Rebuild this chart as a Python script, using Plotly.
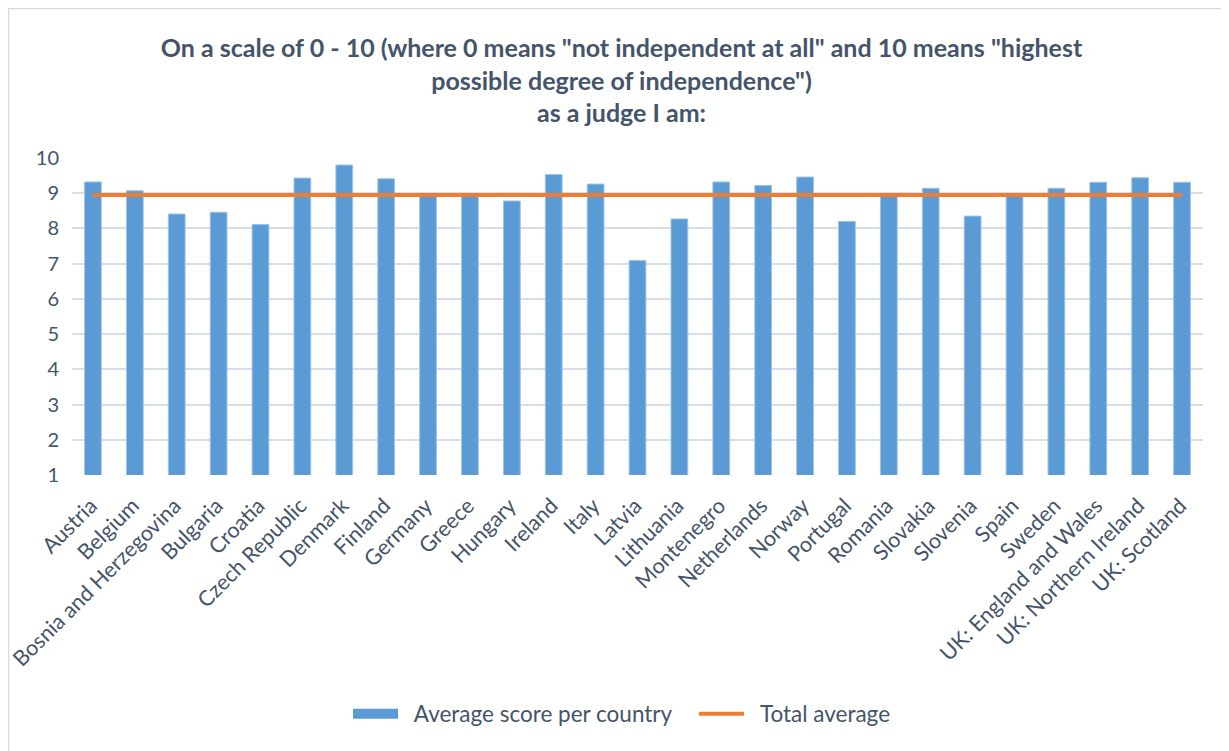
import plotly.graph_objects as go

countries = ["Austria", "Belgium", "Bosnia and Herzegovina", "Bulgaria", "Croatia",
             "Czech Republic", "Denmark", "Finland", "Germany", "Greece", "Hungary",
             "Ireland", "Italy", "Latvia", "Lithuania", "Montenegro", "Netherlands",
             "Norway", "Portugal", "Romania", "Slovakia", "Slovenia", "Spain", "Sweden",
             "UK: England and Wales", "UK: Northern Ireland", "UK: Scotland"]
avg_scores = [9.32, 9.07, 8.41, 8.46, 8.11, 9.43, 9.80, 9.41, 8.93, 8.92, 8.78,
              9.53, 9.26, 7.09, 8.27, 9.32, 9.22, 9.46, 8.20, 8.93, 9.14, 8.35,
              8.95, 9.14, 9.31, 9.44, 9.31]
total_average = [8.95] * len(countries)
y_ticks = [1, 2, 3, 4, 5, 6, 7, 8, 9, 10]

FONT = "Lato, 'Open Sans', sans-serif"
TXT = "#44546A"
BLUE = "#5B9BD5"
ORANGE = "#ED7D31"

W, H = 1221, 743          # page body adds an 8px margin
L, R, T, B = 64, 26, 150, 276
PW, PH = W - L - R, H - T - B
NB = "\u00a0\u00a0"

fig = go.Figure()
fig.add_trace(go.Bar(x=countries, y=avg_scores, name="Average score per country",
                     marker=dict(color=BLUE, line=dict(color="#9DC3E6", width=1)),
                     showlegend=False))
fig.add_trace(go.Scatter(x=[None], y=[None], mode="lines", name=NB + "Average score per country",
                         line=dict(color=BLUE, width=14)))
fig.add_trace(go.Scatter(x=countries, y=total_average, name=NB + "Total average", mode="lines",
                         line=dict(color=ORANGE, width=4)))

fig.update_layout(
    width=W, height=H,
    paper_bgcolor="white", plot_bgcolor="white",
    margin=dict(l=L, r=R, t=T, b=B),
    bargap=0.6,
    font=dict(family=FONT, color=TXT, size=19),
    title=dict(text="<b>On a scale of 0 - 10 (where 0 means \"not independent at all\" and 10 means \"highest<br>possible degree of independence\")<br>as a judge I am:</b>",
               x=613.5 / W, xanchor="center", yref="container", y=1 - 49 / H, yanchor="top",
               font=dict(size=25, color=TXT, family=FONT)),
    xaxis=dict(tickangle=-45, showgrid=False, showline=False, ticks="", automargin=False,
               tickfont=dict(size=21.5, color=TXT), ticklabelstandoff=13, ticklabelshift=-2),
    yaxis=dict(range=[1, 10], tickvals=y_ticks, showgrid=True, gridcolor="#D9DDE6",
               gridwidth=2, zeroline=False, showline=False, ticks="", automargin=False,
               tickfont=dict(size=20, color=TXT), ticklabelstandoff=12),
    legend=dict(orientation="h", x=298 / W, xanchor="left", yref="container",
                y=1 - 706 / H, yanchor="middle",
                font=dict(size=22.5, color=TXT), traceorder="normal",
                entrywidth=286, itemwidth=45),
)
fig.add_shape(type="rect", xref="paper", yref="paper",
              x0=(0.5 - L) / PW, x1=(W + 50 - L) / PW,
              y0=-(B + 50) / PH, y1=1 + (T - 0.5) / PH,
              line=dict(color="#D9D9D9", width=1.5), fillcolor="rgba(0,0,0,0)")
fig.write_html("out.html")
